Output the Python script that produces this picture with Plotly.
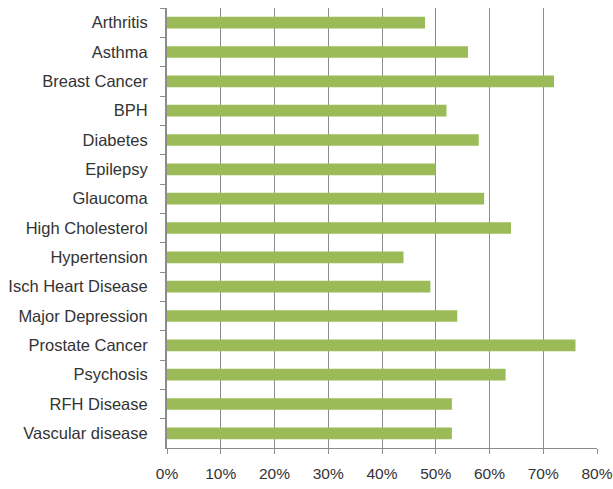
import plotly.graph_objects as go

categories = ["Arthritis", "Asthma", "Breast Cancer", "BPH", "Diabetes", "Epilepsy",
              "Glaucoma", "High Cholesterol", "Hypertension", "Isch Heart Disease",
              "Major Depression", "Prostate Cancer", "Psychosis", "RFH Disease",
              "Vascular disease"]
values = [0.48, 0.56, 0.72, 0.52, 0.58, 0.50, 0.59, 0.64, 0.44, 0.49,
          0.54, 0.76, 0.63, 0.53, 0.53]
x_ticks = [0, 0.1, 0.2, 0.3, 0.4, 0.5, 0.6, 0.7, 0.8]
x_tick_labels = ["0%", "10%", "20%", "30%", "40%", "50%", "60%", "70%", "80%"]

fig = go.Figure(go.Bar(
    y=categories, x=values, orientation="h",
    marker=dict(color="#9BBB59", line=dict(width=0)),
    hoverinfo="skip",
))

fig.update_layout(
    width=613, height=489,
    margin=dict(l=167, r=16, t=8, b=41),
    paper_bgcolor="white", plot_bgcolor="white",
    bargap=0.6,
    showlegend=False,
    font=dict(family="Liberation Sans, Arial, sans-serif", size=15, color="#333333"),
)
fig.update_xaxes(
    automargin=False,
    range=[0, 0.8], tickvals=x_ticks, ticktext=x_tick_labels,
    showgrid=True, gridcolor="#8c8c8c", gridwidth=1,
    showline=True, linecolor="#8c8c8c", linewidth=1, zeroline=False,
    ticks="outside", ticklen=5, tickcolor="#8c8c8c",
    ticklabelstandoff=6,
    tickfont=dict(size=15.5, color="#333333"),
)
fig.update_yaxes(
    automargin=False,
    categoryorder="array", categoryarray=categories, autorange="reversed",
    showline=True, linecolor="#8c8c8c", linewidth=2,
    ticks="outside", ticklen=5, tickcolor="#8c8c8c", tickson="boundaries",
    ticklabelstandoff=14,
    showgrid=False,
    tickfont=dict(size=16.5, color="#333333"),
)

fig.write_html(
    "out.html",
    config={"displayModeBar": False},
    post_script="document.body.style.margin='0';document.body.style.overflow='hidden';",
)
